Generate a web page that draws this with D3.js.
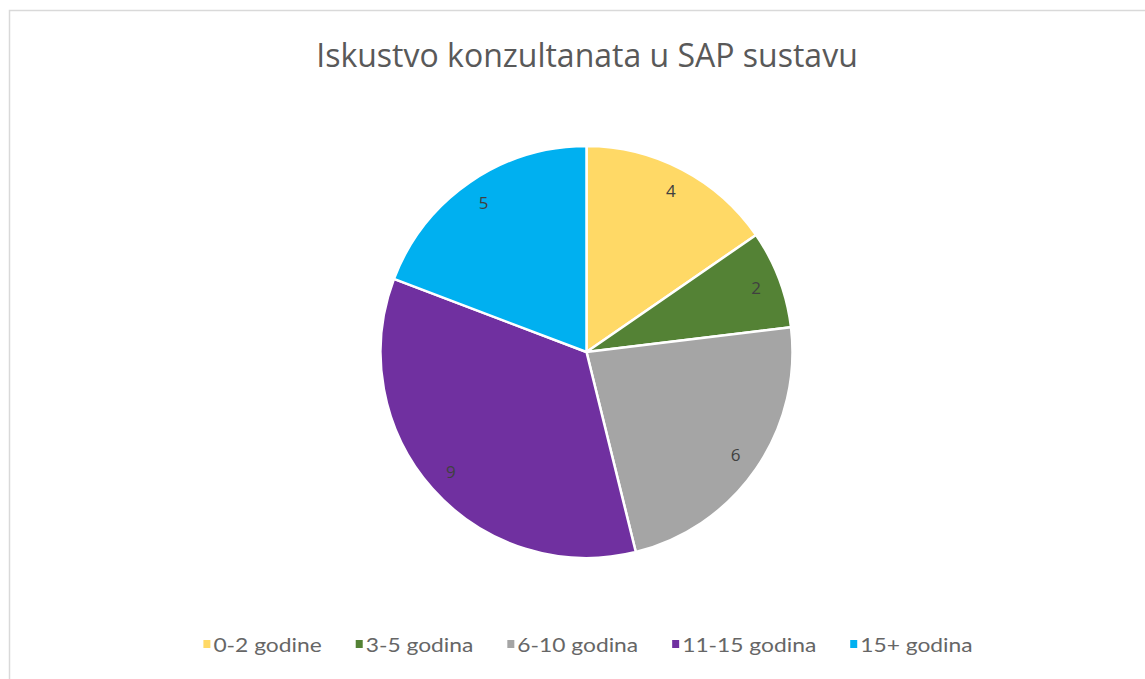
<!DOCTYPE html>
<html>
<head>
<meta charset="utf-8">
<script src="https://cdn.jsdelivr.net/npm/d3@7"></script>
<style>
  body { margin: 0; background: #fff; }
</style>
</head>
<body>
<div id="chart-area"></div>
<script>
// data
let categories = ["0-2 godine", "3-5 godina", "6-10 godina", "11-15 godina", "15+ godina"];
let values = [4, 2, 6, 9, 5];
let colors = ["#FFD966", "#548235", "#A5A5A5", "#7030A0", "#00B0F0"];
let title = "Iskustvo konzultanata u SAP sustavu";

let width = 1145, height = 679;
let cx = 586.5, cy = 352, radius = 206;

let svg = d3.select("#chart-area").append("svg")
    .attr("width", width)
    .attr("height", height);

// chart frame
svg.append("rect")
    .attr("x", 9.5).attr("y", 10.5)
    .attr("width", width).attr("height", height)
    .attr("fill", "#fff")
    .attr("stroke", "#d9d9d9")
    .attr("stroke-width", 1.5);

svg.append("text")
    .attr("x", 587).attr("y", 67)
    .attr("text-anchor", "middle")
    .style("font-family", "'Open Sans', sans-serif")
    .style("font-size", "32px")
    .style("fill", "#595959")
    .text(title);

let pie = d3.pie().sort(null).value(d => d);
let arcs = pie(values);

let arc = d3.arc().innerRadius(0).outerRadius(radius);
let labelArc = d3.arc().innerRadius(radius * 0.88).outerRadius(radius * 0.88);

let g = svg.append("g")
    .attr("transform", "translate(" + cx + "," + cy + ")");

g.selectAll("path")
    .data(arcs)
    .enter().append("path")
    .attr("d", arc)
    .attr("fill", (d, i) => colors[i])
    .attr("stroke", "#fff")
    .attr("stroke-width", 2.5)
    .attr("stroke-linejoin", "round");

g.selectAll("text")
    .data(arcs)
    .enter().append("text")
    .attr("transform", d => "translate(" + labelArc.centroid(d) + ")")
    .attr("text-anchor", "middle")
    .attr("dy", "0.35em")
    .style("font-family", "'Open Sans', sans-serif")
    .style("font-size", "17px")
    .style("fill", "#404040")
    .text(d => d.data);

// legend, laid out by measured text width and centred
let sx = 1.14; // the legend text in the picture is drawn wide
let legend = svg.append("g");
let items = legend.selectAll("g")
    .data(categories)
    .enter().append("g");

items.append("rect")
    .attr("width", 7).attr("height", 8)
    .attr("y", -12)
    .attr("fill", (d, i) => colors[i]);

items.append("text")
    .attr("transform", "translate(10,0) scale(" + sx + ",1)")
    .style("font-family", "Lato, sans-serif")
    .style("font-size", "20px")
    .style("fill", "#666666")
    .text(d => d);

let xpos = 0;
let gap = 34;
items.each(function() {
    let w = 10 + sx * d3.select(this).select("text").node().getComputedTextLength();
    d3.select(this).attr("transform", "translate(" + xpos + ",0)");
    xpos += w + gap;
});
let total = xpos - gap;
legend.attr("transform", "translate(" + (588 - total / 2) + ",652)");
</script>
</body>
</html>
